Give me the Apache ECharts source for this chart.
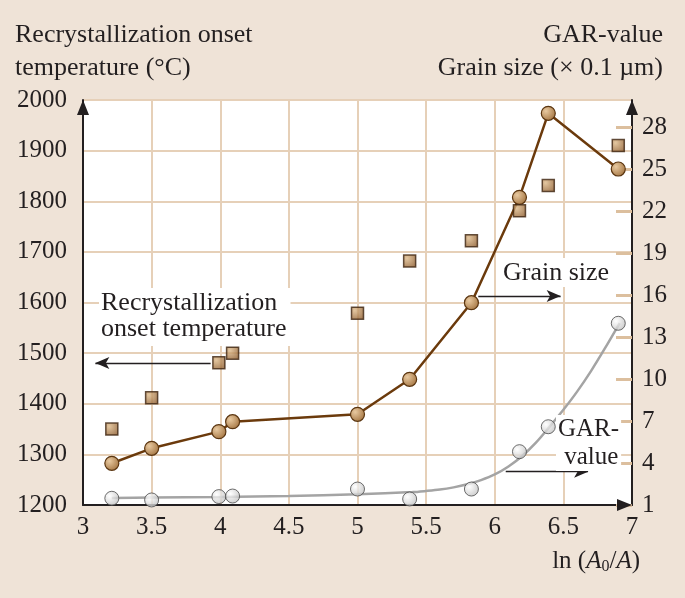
<!DOCTYPE html>
<html>
<head>
<meta charset="utf-8">
<script src="https://cdn.jsdelivr.net/npm/echarts@6/dist/echarts.min.js"></script>
<style>
html,body{margin:0;padding:0;background:#efe3d7;}
#c{width:685px;height:598px;}
</style>
</head>
<body>
<div id="c"></div>
<script>
// x positions ln(A0/A)
var lnRatio = [3.21, 3.50, 3.99, 4.09, 5.00, 5.38, 5.83, 6.18, 6.39, 6.90];
// Recrystallization onset temperature (°C), left axis
var recrystTemp = [1350, 1412, 1481, 1500, 1579, 1682, 1722, 1781, 1831, 1910];
// Grain size (x 0.1 µm), right axis
var grainSize = [3.98, 5.05, 6.24, 6.95, 7.48, 9.98, 15.45, 22.98, 28.98, 25.0];
// GAR-value, right axis
var garValue = [1.48, 1.36, 1.60, 1.64, 2.14, 1.43, 2.14, 4.81, 6.59, 13.98];
// fitted GAR curve
var garFitX = [3.21, 3.5, 4.0, 4.5, 5.0, 5.4, 5.5, 5.6, 5.7, 5.8, 5.9, 6.0, 6.1, 6.2, 6.3, 6.4, 6.5, 6.6, 6.7, 6.8, 6.91];
var garFitY = [1.50, 1.53, 1.58, 1.65, 1.76, 1.92, 2.0, 2.1, 2.26, 2.48, 2.78, 3.18, 3.75, 4.5, 5.45, 6.6, 7.8, 9.1, 10.55, 12.15, 14.0];
// ticks
var xTicks = [3, 3.5, 4, 4.5, 5, 5.5, 6, 6.5, 7];
var leftTicks = [1200, 1300, 1400, 1500, 1600, 1700, 1800, 1900, 2000];
var rightTicks = [1, 4, 7, 10, 13, 16, 19, 22, 25, 28];

function zip(a, b) { return a.map(function (v, i) { return [v, b[i]]; }); }

var FONT = 'Liberation Serif';
var TXT = '#231f20';
var GRID = '#e6d0b8';
var AX = '#231f20';

var brownFill = { type: 'radial', x: 0.35, y: 0.35, r: 0.75,
  colorStops: [{ offset: 0, color: '#e8c9a0' }, { offset: 1, color: '#a0703c' }] };
var squareFill = { type: 'radial', x: 0.3, y: 0.3, r: 0.8,
  colorStops: [{ offset: 0, color: '#dcb888' }, { offset: 1, color: '#8e5c2c' }] };
var greyFill = { type: 'radial', x: 0.35, y: 0.35, r: 0.75,
  colorStops: [{ offset: 0, color: '#ffffff' }, { offset: 1, color: '#bcbcbc' }] };

var chart = echarts.init(document.getElementById('c'));
var option = {
  backgroundColor: '#efe3d7',
  animation: false,
  textStyle: { fontFamily: FONT },
  grid: { left: 83, right: 53, top: 100, bottom: 93, show: true, backgroundColor: '#ffffff', borderWidth: 0 },
  xAxis: {
    type: 'value', min: xTicks[0], max: xTicks[xTicks.length - 1], interval: 0.5,
    axisLine: { lineStyle: { color: AX, width: 2 }, symbol: ['none', 'triangle'], symbolSize: [12, 15], symbolOffset: [0, -7.5] },
    axisTick: { show: false },
    splitLine: { show: true, lineStyle: { color: GRID, width: 2 } },
    axisLabel: { color: TXT, fontFamily: FONT, fontSize: 25, margin: 10,
      formatter: function (v) { return String(v); } }
  },
  yAxis: [{
    type: 'value', position: 'left', min: leftTicks[0], max: leftTicks[leftTicks.length - 1], interval: 100,
    axisLine: { show: true, lineStyle: { color: AX, width: 2 }, symbol: ['none', 'triangle'], symbolSize: [12, 15], symbolOffset: [0, -7.5] },
    axisTick: { show: false },
    splitLine: { show: true, lineStyle: { color: GRID, width: 2 } },
    axisLabel: { color: TXT, fontFamily: FONT, fontSize: 25, margin: 16,
      formatter: function (v) { return String(v); } }
  }, {
    type: 'value', position: 'right', min: 1, max: 29.93,
    axisLine: { show: true, lineStyle: { color: AX, width: 2 }, symbol: ['none', 'triangle'], symbolSize: [12, 15], symbolOffset: [0, -7.5] },
    axisTick: { show: true, inside: true, length: 16, customValues: rightTicks, lineStyle: { color: '#dcbf9e', width: 3 } },
    splitLine: { show: false },
    axisLabel: { color: TXT, fontFamily: FONT, fontSize: 25, margin: 10, customValues: rightTicks,
      formatter: function (v) { return String(v); } }
  }],
  series: [{
    name: 'GAR fit', type: 'line', yAxisIndex: 1, smooth: 0.3, showSymbol: false, symbol: 'none',
    data: zip(garFitX, garFitY),
    lineStyle: { color: '#a4a4a4', width: 2.5 }, z: 2, silent: true
  }, {
    name: 'Grain size', type: 'line', yAxisIndex: 1, data: zip(lnRatio, grainSize),
    symbol: 'circle', symbolSize: 14,
    lineStyle: { color: '#6b3a0c', width: 2.5 },
    itemStyle: { color: brownFill, borderColor: '#5a3510', borderWidth: 1.2 }, z: 3,
    markLine: {
      silent: true, symbol: ['none', 'arrow'], symbolSize: [9, 14], label: { show: false },
      lineStyle: { color: '#231f20', width: 1.3, type: 'solid' },
      data: [
        [{ coord: [5.88, 15.93] }, { coord: [6.48, 15.93] }],
        [{ coord: [6.08, 3.38] }, { coord: [6.68, 3.38] }]
      ]
    }
  }, {
    name: 'GAR-value', type: 'scatter', yAxisIndex: 1, data: zip(lnRatio, garValue),
    symbol: 'circle', symbolSize: 14,
    itemStyle: { color: greyFill, borderColor: '#4a4a4a', borderWidth: 1 }, z: 4
  }, {
    name: 'Recrystallization onset temperature', type: 'scatter', yAxisIndex: 0, data: zip(lnRatio, recrystTemp),
    symbol: 'rect', symbolSize: 12,
    itemStyle: { color: squareFill, borderColor: '#3d2410', borderWidth: 1.5 }, z: 4,
    markLine: {
      silent: true, symbol: ['none', 'arrow'], symbolSize: [9, 14], label: { show: false },
      lineStyle: { color: '#231f20', width: 1.3, type: 'solid' },
      data: [
        [{ coord: [3.93, 1480.5] }, { coord: [3.09, 1480.5] }]
      ]
    }
  }],
  graphic: [
    { type: 'text', x: 15, y: 19, z: 10,
      style: { text: 'Recrystallization onset\ntemperature (°C)', font: '26px "Liberation Serif"', fill: TXT, lineHeight: 33 } },
    { type: 'text', x: 663, y: 19, z: 10,
      style: { text: 'GAR-value\nGrain size (× 0.1 µm)', font: '26px "Liberation Serif"', fill: TXT, lineHeight: 33, align: 'right' } },
    { type: 'text', right: 45, top: 549, z: 10,
      style: { text: '{n|ln (}{i|A}{s|0}{n|/}{i|A}{n|)}', fill: TXT,
        rich: { n: { fontFamily: FONT, fontSize: 25, fill: TXT },
                i: { fontFamily: FONT, fontSize: 25, fontStyle: 'italic', fill: TXT },
                s: { fontFamily: FONT, fontSize: 16, fill: TXT, padding: [10, 0, 0, 0] } } } },
    { type: 'text', x: 99, y: 288, z: 10,
      style: { text: 'Recrystallization\nonset temperature', font: '26px "Liberation Serif"', fill: TXT, lineHeight: 26,
        backgroundColor: '#ffffff', padding: [2, 4, 4, 2] } },
    { type: 'text', x: 498, y: 258, z: 10,
      style: { text: 'Grain size', font: '26px "Liberation Serif"', fill: TXT, lineHeight: 28,
        backgroundColor: '#ffffff', padding: [1, 6, 0, 5] } },
    { type: 'text', x: 556, y: 415, z: 10,
      style: { text: '{a|GAR-}\n{b| value}', fill: TXT,
        rich: { a: { fontFamily: FONT, fontSize: 25, lineHeight: 28, fill: TXT },
                b: { fontFamily: FONT, fontSize: 25, lineHeight: 28, fill: TXT } },
        backgroundColor: '#ffffff', padding: [0, 2, 0, 2] } }
  ]
};
chart.setOption(option);
</script>
</body>
</html>
